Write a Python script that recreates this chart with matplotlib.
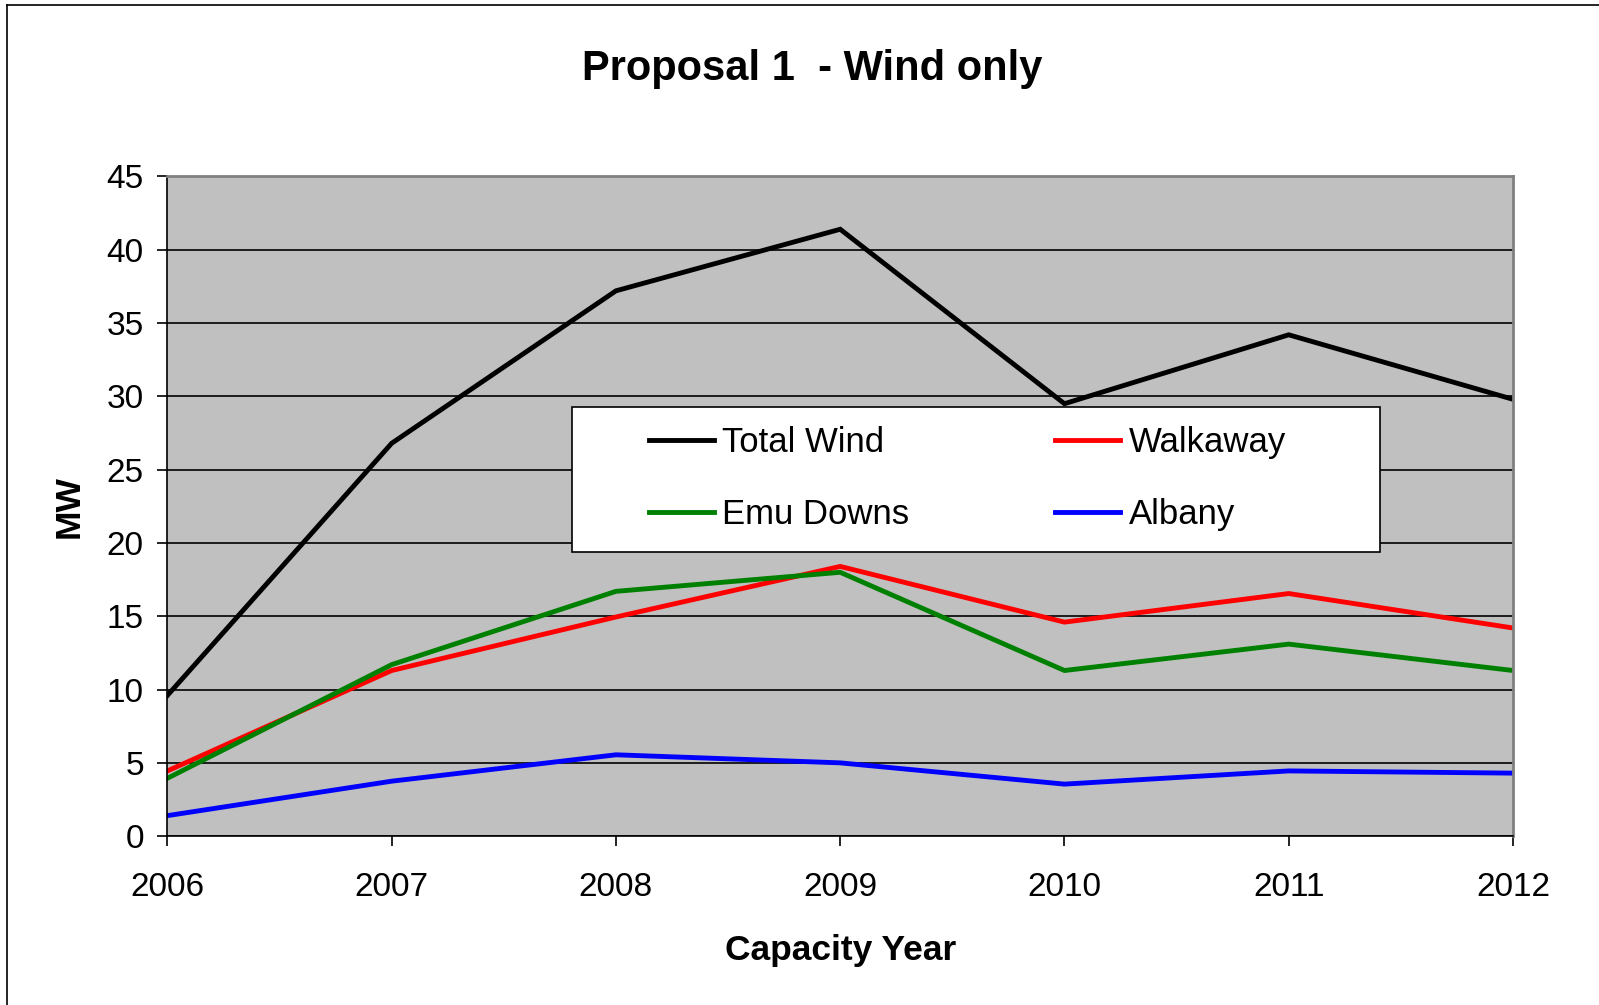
import matplotlib.pyplot as plt
from matplotlib.lines import Line2D
from matplotlib.patches import Rectangle

years = [2006, 2007, 2008, 2009, 2010, 2011, 2012]
total_wind = [9.6, 26.8, 37.2, 41.4, 29.5, 34.2, 29.8]
walkaway = [4.45, 11.3, 14.95, 18.4, 14.6, 16.55, 14.2]
emu_downs = [3.95, 11.7, 16.7, 18.0, 11.3, 13.1, 11.3]
albany = [1.4, 3.75, 5.55, 5.0, 3.55, 4.45, 4.3]
yticks = [0, 5, 10, 15, 20, 25, 30, 35, 40, 45]

plt.rcParams['font.family'] = ['Liberation Sans', 'DejaVu Sans']

fig = plt.figure(figsize=(15.99, 10.05), dpi=100)
ax = fig.add_axes([0.1047, 0.168, 0.8415, 0.6564])
ax.set_facecolor('#c0c0c0')

l1, = ax.plot(years, total_wind, color='black', lw=3.5, label='Total Wind')
l2, = ax.plot(years, walkaway, color='#ff0000', lw=3.5, label='Walkaway')
l3, = ax.plot(years, emu_downs, color='#008000', lw=3.5, label='Emu Downs')
l4, = ax.plot(years, albany, color='#0000ff', lw=3.5, label='Albany')
for l in (l1, l2, l3, l4):
    l.set_solid_joinstyle('miter')

ax.set_xlim(2006, 2012)
ax.set_ylim(0, 45)
ax.set_xticks(years)
ax.set_yticks(yticks)
ax.yaxis.grid(True, color='black', lw=1.2)
ax.set_axisbelow(True)
ax.tick_params(labelsize=24, length=7, width=1.2, direction='out')
ax.tick_params(axis='x', pad=19)
ax.tick_params(axis='y', pad=10)
for s in ['top', 'right']:
    ax.spines[s].set_color('#808080')
    ax.spines[s].set_linewidth(2)
for s in ['left', 'bottom']:
    ax.spines[s].set_color('black')
    ax.spines[s].set_linewidth(1.2)

ax.set_xlabel('Capacity Year', fontsize=25.5, fontweight='bold', labelpad=22)
ax.set_ylabel('MW', fontsize=25.5, fontweight='bold', labelpad=15)
fig.text(0.508, 0.931, 'Proposal 1  - Wind only', fontsize=30, fontweight='bold',
         ha='center', va='center')

# legend box
ax.add_patch(Rectangle((0.3008, 0.4312), 0.6007, 0.2195, transform=ax.transAxes,
                       facecolor='white', edgecolor='black', lw=1.2, zorder=5))
leg = ax.legend([l1, l3, l2, l4], ['Total Wind', 'Emu Downs', 'Walkaway', 'Albany'],
                ncol=2, loc='upper left', bbox_to_anchor=(0.3576, 0.621),
                fontsize=25, frameon=False,
                handlelength=1.88, handletextpad=0.24, columnspacing=4.2,
                labelspacing=1.1, borderpad=0, borderaxespad=0)
leg.set_zorder(6)

fig.add_artist(Line2D([0.0045, 0.0045], [0, 0.995], color='black', lw=1.2))
fig.add_artist(Line2D([0.0045, 1], [0.995, 0.995], color='black', lw=1.2))

fig.savefig('out.png', dpi=100, facecolor='white')
